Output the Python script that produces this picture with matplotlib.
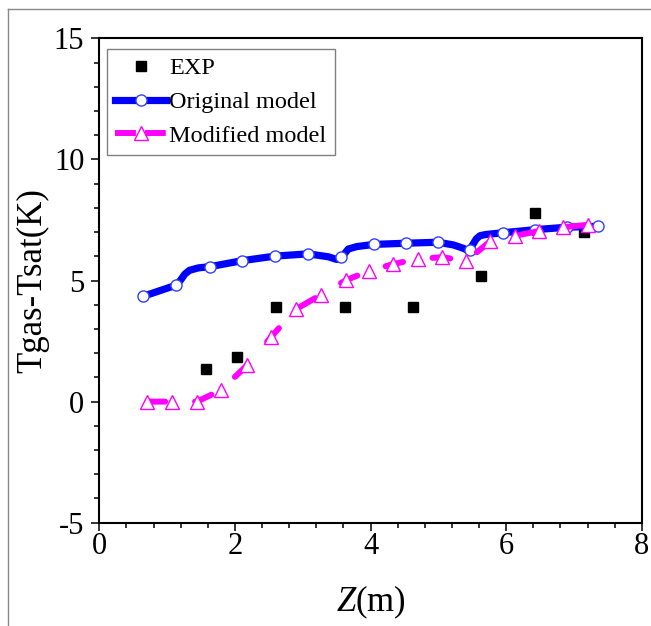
import matplotlib.pyplot as plt
from matplotlib.lines import Line2D
from matplotlib.ticker import MultipleLocator

# experimental points
exp_z = [1.574, 2.035, 2.610, 3.623, 4.622, 5.633, 6.421, 7.143]
exp_v = [1.34, 1.84, 3.91, 3.91, 3.92, 5.17, 7.77, 6.99]

# original model: markers and the drawn curve
orig_z = [0.649, 1.136, 1.628, 2.109, 2.598, 3.082, 3.564, 4.048, 4.523, 4.995,
          5.470, 5.946, 6.428, 6.893, 7.359]
orig_v = [4.35, 4.81, 5.57, 5.82, 6.01, 6.10, 5.97, 6.49, 6.54, 6.58,
          6.28, 6.97, 7.10, 7.20, 7.24]
orig_line_z = [0.649, 1.136, 1.20, 1.26, 1.33, 1.46, 1.628, 2.109, 2.598, 3.082, 3.377,
               3.50, 3.564, 3.62, 3.672, 3.796, 4.048, 4.523, 4.995, 5.22, 5.368,
               5.45, 5.50, 5.56, 5.614, 5.70, 5.946, 6.428, 6.893, 7.359]
orig_line_v = [4.35, 4.81, 5.02, 5.26, 5.42, 5.52, 5.57, 5.82, 6.01, 6.10, 5.98,
               5.87, 5.90, 6.12, 6.30, 6.40, 6.49, 6.54, 6.58, 6.47, 6.33,
               6.22, 6.45, 6.72, 6.85, 6.90, 6.97, 7.10, 7.20, 7.24]

# modified model
mod_z = [0.708, 1.077, 1.441, 1.799, 2.178, 2.537, 2.896, 3.269, 3.634, 3.974,
         4.336, 4.704, 5.058, 5.412, 5.766, 6.130, 6.484, 6.843, 7.202]
mod_v = [0.0, 0.0, 0.0, 0.48, 1.50, 2.68, 3.81, 4.41, 5.01, 5.39,
         5.68, 5.90, 5.96, 5.81, 6.62, 6.85, 7.04, 7.20, 7.30]
mod_line_z = mod_z + [7.38]
mod_line_v = mod_v + [7.23]

plt.rcParams['font.family'] = ['Liberation Serif', 'DejaVu Serif']
plt.rcParams['mathtext.fontset'] = 'custom'
plt.rcParams['mathtext.it'] = 'Liberation Serif:italic'
plt.rcParams['mathtext.rm'] = 'Liberation Serif'
plt.rcParams['axes.unicode_minus'] = False

blue = '#0000ff'
mag = '#ff00ff'

fig = plt.figure(figsize=(6.51, 6.26), dpi=100)
ax = fig.add_axes([0.1525, 0.165, 0.8334, 0.7738])

ax.plot(exp_z, exp_v, 's', color='black', ms=6.5, zorder=3)
ax.plot(orig_line_z, orig_line_v, '-', color=blue, lw=5.2, solid_capstyle='round',
        solid_joinstyle='round', zorder=4)
ax.plot(orig_z, orig_v, 'o', ms=8, mfc='white', mec='#3040ff', mew=1.0, zorder=5)
ax.plot(mod_line_z, mod_line_v, color=mag, lw=4.3, dashes=(3.0, 5.0), dash_capstyle='round',
        zorder=6)
ax.plot(mod_z, mod_v, '^', ms=9.5, mfc='white', mec=mag, mew=1.0, zorder=7)

ax.set_xlim(0, 8)
ax.set_ylim(-5, 15)
ax.xaxis.set_major_locator(MultipleLocator(2))
ax.xaxis.set_minor_locator(MultipleLocator(0.4))
ax.yaxis.set_major_locator(MultipleLocator(5))
ax.yaxis.set_minor_locator(MultipleLocator(1))
ax.tick_params(which='both', direction='out', top=False, right=False, width=1.1,
               labelsize=22, color='black')
ax.tick_params(which='major', length=5.8)
ax.tick_params(which='minor', length=3.6)
ax.tick_params(axis='x', pad=1)
ax.tick_params(axis='y', pad=5)
for s in ax.spines.values():
    s.set_linewidth(1.5)

ax.set_xlabel(r'$\mathit{Z}$(m)', fontsize=25, labelpad=16)
ax.set_ylabel('Tgas-Tsat(K)', fontsize=25, labelpad=3)

handles = [
    Line2D([], [], ls='none', marker='s', color='black', ms=6.5),
    Line2D([], [], color=blue, lw=5.2, marker='o', ms=8, mfc='white', mec='#3040ff', mew=1.0),
    Line2D([], [], color=mag, lw=4.3, dashes=(3.5, 1.5), marker='^', ms=9.5, mfc='white', mec=mag, mew=1.0),
]
leg = ax.legend(handles, ['EXP', 'Original model', 'Modified model'], loc='upper left',
                bbox_to_anchor=(0.014, 0.978), borderaxespad=0, fontsize=17.5,
                handlelength=2.1, handletextpad=0.12, labelspacing=0.48, borderpad=0.35,
                fancybox=False, framealpha=1, edgecolor='#808080')
leg.get_frame().set_linewidth(1.0)

# thin grey frame of the original picture
fig.add_artist(Line2D([8 / 651, 8 / 651], [0, 1 - 9 / 626], transform=fig.transFigure,
                      color='#888888', lw=1))
fig.add_artist(Line2D([8 / 651, 1], [1 - 9 / 626, 1 - 9 / 626], transform=fig.transFigure,
                      color='#888888', lw=1))

fig.savefig('out.png', dpi=100)
